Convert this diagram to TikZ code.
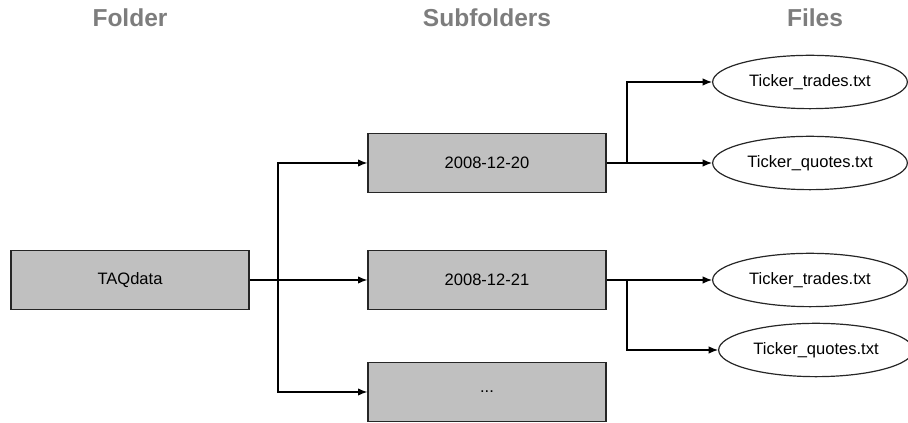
\documentclass[tikz,border=0pt]{standalone}
\usepackage{fontspec}
\setmainfont{Liberation Sans}
\usetikzlibrary{arrows.meta,shapes.geometric}
\definecolor{boxgray}{RGB}{192,192,192}
\definecolor{headgray}{RGB}{125,125,125}

\begin{document}
\begin{tikzpicture}[x=0.75pt,y=0.75pt,>={Latex[length=7pt,width=5.5pt]},line width=0.9pt,
    folder/.style={draw=black!85,fill=boxgray,minimum width=178.5pt,minimum height=44pt,inner sep=0pt,font=\fontsize{12.4}{14}\selectfont},
    file/.style={draw=black!85,ellipse,minimum width=146pt,minimum height=40pt,inner sep=0pt,font=\fontsize{12.4}{14}\selectfont},
    head/.style={text=headgray,font=\bfseries\fontsize{18.4}{20}\selectfont}]
    \useasboundingbox (0,0) rectangle (908,423);
    % column titles
    \node[head] (hfolder) at (130,405) {Folder};
    \node[head] (hsub) at (487,405) {Subfolders};
    \node[head] (hfiles) at (815,405) {Files};
    % folder and subfolders
    \node[folder] (taq) at (130,143) {TAQdata};
    \node[folder] (day1) at (487,260) {2008-12-20};
    \node[folder] (day2) at (487,143) {2008-12-21};
    \node[folder] (more) at (487,31) {...};
    % files
    \node[file] (trades1) at (810,341) {Ticker\_trades.txt};
    \node[file] (quotes1) at (810,260) {Ticker\_quotes.txt};
    \node[file] (trades2) at (810,143) {Ticker\_trades.txt};
    \node[file] (quotes2) at (816,73) {Ticker\_quotes.txt};
    % branch points
    \coordinate (s0) at (278,143);
    \coordinate (s1) at (627,260);
    \coordinate (s2) at (627,143);
    % connectors
    \draw[->] (taq.east) -- (s0) |- (day1.west);
    \draw[->] (s0) -- (day2.west);
    \draw[->] (s0) |- (more.west);
    \draw[->] (day1.east) -- (s1) |- (trades1.west);
    \draw[->] (s1) -- (quotes1.west);
    \draw[->] (day2.east) -- (s2) -- (trades2.west);
    \draw[->] (s2) |- (quotes2.west);
\end{tikzpicture}
\end{document}
